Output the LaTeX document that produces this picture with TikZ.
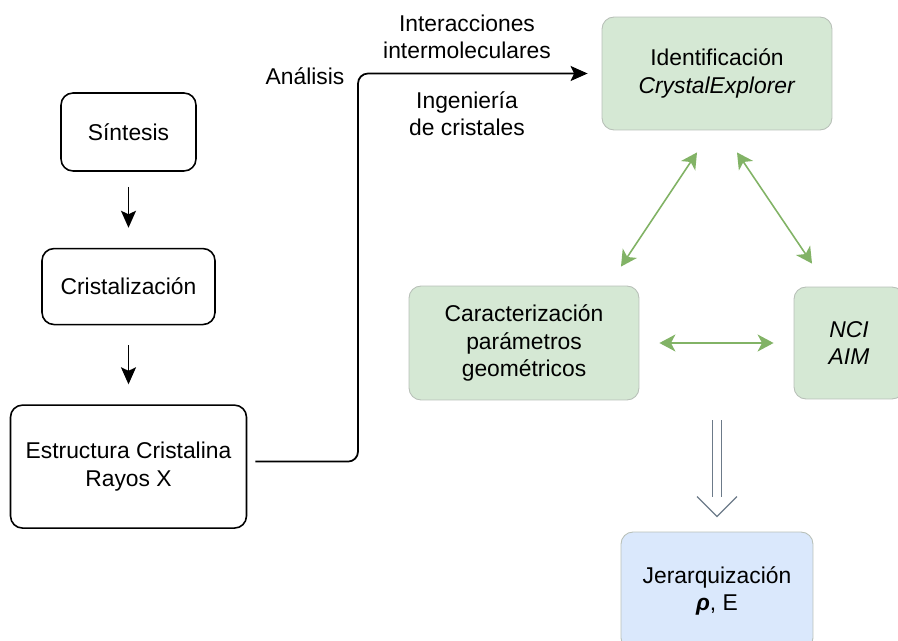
\documentclass[tikz,border=0pt]{standalone}
\usepackage{fontspec}
\setmainfont{Liberation Sans}
\usepackage{xcolor}
\usetikzlibrary{positioning}
\usetikzlibrary{arrows.meta}
\usetikzlibrary{calc}

\definecolor{boxgreen}{HTML}{D5E8D4}
\definecolor{boxblue}{HTML}{DAE8FC}
\definecolor{linegreen}{HTML}{82B366}
\definecolor{edgegray}{HTML}{B8C0B8}
\definecolor{arrowgray}{HTML}{6C7A89}

\begin{document}
\begin{tikzpicture}[x=0.02cm,y=-0.02cm,>={Stealth[length=0.34cm,width=0.3cm,inset=0.07cm]},
                    font=\fontsize{13}{15.6}\selectfont,
                    main box/.style={rectangle,rounded corners=0.24cm,draw,line width=0.9pt,fill=white,align=center},
                    green box/.style={rectangle,rounded corners=0.24cm,draw=edgegray,line width=0.5pt,fill=boxgreen,align=center},
                    blue box/.style={rectangle,rounded corners=0.24cm,draw=edgegray,line width=0.5pt,fill=boxblue,align=center},
                    flow/.style={->,line width=1pt},
                    link/.style={{Stealth[length=0.32cm,width=0.34cm,inset=0.09cm]}-{Stealth[length=0.32cm,width=0.34cm,inset=0.09cm]},draw=linegreen,fill=linegreen,line width=0.9pt},
                    dbl line/.style={draw=arrowgray,double=white,double distance=0.16cm,line width=0.6pt},
                    chevron/.style={draw=arrowgray,line width=0.7pt}]
\useasboundingbox (0,0) rectangle (898,641);
\clip (0,0) rectangle (898,641);

\node[main box,minimum width=2.7cm,minimum height=1.56cm] (sint) at (128.5,132) {Síntesis};
\node[main box,minimum width=3.46cm,minimum height=1.52cm] (crist) [below=1.52cm of sint] {Cristalización};
\node[main box,minimum width=4.72cm,minimum height=2.46cm] (estr) [below=1.58cm of crist] {Estructura Cristalina\\Rayos X};

\node[green box,minimum width=4.6cm,minimum height=2.26cm] (ident) at (717,73.5) {Identificación\\\textit{CrystalExplorer}};
\node[green box,minimum width=4.6cm,minimum height=2.28cm] (carac) at (524,343) {Caracterización\\parámetros\\geométricos};
\node[green box,minimum width=2.2cm,minimum height=2.24cm] (nci) at (849,343) {\textit{NCI}\\\textit{AIM}};
\node[blue box,minimum width=3.84cm,minimum height=2.36cm] (jerar) at (717,591) {Jerarquización\\\textbf{\textit{ρ}}, E};

\node (ana) at (305,76) {Análisis};
\node[align=center] (inter) at (467,37) {Interacciones\\intermoleculares};
\node[align=center] (inge) at (467,113.5) {Ingeniería\\de cristales};

\coordinate (turn) at (358,270);
\draw[flow,shorten <=0.3cm,shorten >=0.4cm] (sint) -- (crist);
\draw[flow,shorten <=0.4cm,shorten >=0.4cm] (crist) -- (estr);
\draw[flow,rounded corners=0.2cm,shorten <=0.16cm,shorten >=0.28cm] ([yshift=0.1cm]estr.east) -| (turn) |- (ident.west);

\draw[link] ([xshift=-0.4cm,yshift=-0.44cm]ident.south) -- ([xshift=1.94cm,yshift=0.38cm]carac.north);
\draw[link] ([xshift=0.4cm,yshift=-0.44cm]ident.south) -- ([xshift=-0.74cm,yshift=0.46cm]nci.north);
\draw[link] ([xshift=0.4cm]carac.east) -- ([xshift=-0.4cm]nci.west);

\coordinate (dtop) at ($(ident.south |- carac.south)+(0,20)$);
\coordinate (dtip) at ($(jerar.north)+(0,-15)$);
\draw[dbl line] (dtop) -- ($(dtip)+(0,-20)$);
\draw[chevron] ($(dtip)+(-20,-20)$) -- (dtip) -- ($(dtip)+(20,-20)$);

\end{tikzpicture}
\end{document}
